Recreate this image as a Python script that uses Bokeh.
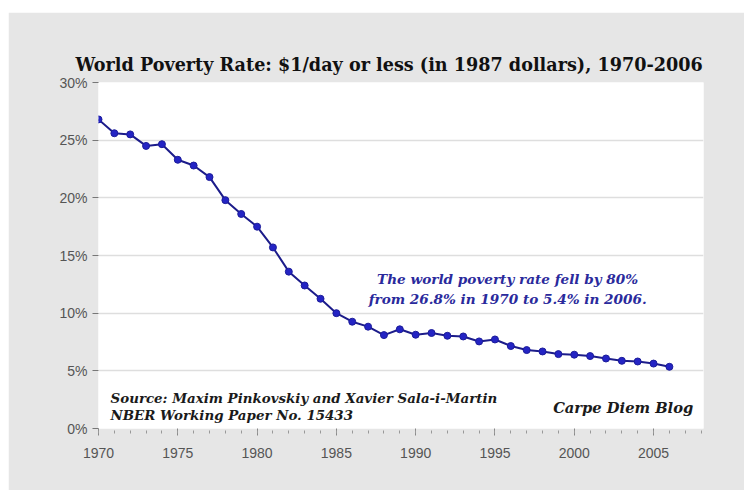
from bokeh.plotting import figure
from bokeh.models import FixedTicker, Label, Spacer, Range1d
from bokeh.layouts import column, row
from bokeh.embed import file_html
from bokeh.resources import INLINE

# ---- data ----
years = list(range(1970, 2007))
rate = [26.8, 25.6, 25.5, 24.5, 24.65, 23.3, 22.8, 21.8, 19.8, 18.6,
        17.5, 15.7, 13.6, 12.4, 11.25, 10.0, 9.26, 8.83, 8.1, 8.6,
        8.13, 8.28, 8.04, 7.98, 7.55, 7.72, 7.15, 6.8, 6.68, 6.45,
        6.4, 6.28, 6.07, 5.87, 5.81, 5.63, 5.35]
y_ticks = [0, 5, 10, 15, 20, 25, 30]
y_tick_labels = ["0%", "5%", "10%", "15%", "20%", "25%", "30%"]
x_ticks = [1970, 1975, 1980, 1985, 1990, 1995, 2000, 2005]
x_minor = list(range(1970, 2009))

title_text = "World Poverty Rate: $1/day or less  (in 1987 dollars), 1970-2006"
note_lines = ["The world poverty rate fell by 80%",
              "from 26.8% in 1970 to 5.4% in 2006."]
source_lines = ["Source: Maxim Pinkovskiy and Xavier Sala-i-Martin",
                "NBER Working Paper No. 15433"]
blog_text = "Carpe Diem Blog"

GRAY = "#e6e6e6"

p = figure(width=736, height=478, output_backend="svg", toolbar_location=None,
           x_range=Range1d(1970, 2008.15), y_range=Range1d(0, 30),
           min_border_left=90, min_border_right=41, min_border_top=70,
           min_border_bottom=62)
p.border_fill_color = GRAY
p.background_fill_color = "white"
p.outline_line_color = None

p.title.text = title_text
p.title.text_font = "DejaVu Serif"
p.title.text_font_style = "bold"
p.title.text_font_size = "17.6px"
p.title.text_color = "#111111"
p.title.align = "left"
p.title.offset = -23
p.title.standoff = 16

# axes
p.yaxis.ticker = FixedTicker(ticks=y_ticks)
p.yaxis.major_label_overrides = {t: l for t, l in zip(y_ticks, y_tick_labels)}
p.yaxis.axis_line_color = None
p.yaxis.major_tick_in = 0
p.yaxis.major_tick_out = 6
p.yaxis.major_tick_line_color = "#777777"
p.yaxis.minor_tick_line_color = None
p.yaxis.major_label_standoff = 5
p.yaxis.major_label_text_font = "Liberation Sans"
p.yaxis.major_label_text_font_size = "14px"
p.yaxis.major_label_text_color = "#555555"

p.xaxis.ticker = FixedTicker(ticks=x_ticks, minor_ticks=x_minor)
p.xaxis.axis_line_color = None
p.xaxis.major_tick_in = 0
p.xaxis.major_tick_out = 7
p.xaxis.minor_tick_in = -2
p.xaxis.minor_tick_out = 5
p.xaxis.major_tick_line_color = "#888888"
p.xaxis.minor_tick_line_color = "#999999"
p.xaxis.major_label_standoff = 12
p.xaxis.major_label_text_font = "Liberation Sans"
p.xaxis.major_label_text_font_size = "14px"
p.xaxis.major_label_text_color = "#555555"

p.xgrid.grid_line_color = None
p.ygrid.grid_line_color = "#dedede"
p.ygrid.grid_line_width = 1.5

# series
p.line(years, rate, line_color="#1c1c8a", line_width=2)
p.scatter(years, rate, marker="circle", size=7, fill_color="#2424c4",
          line_color="#1c1c9a")

# annotations
for txt, yy in zip(note_lines, [12.97, 11.2]):
    p.add_layout(Label(x=1995.8, y=yy, text=txt, text_align="center",
                       text_baseline="middle", text_font="DejaVu Serif",
                       text_font_style="bold italic", text_font_size="13.6px",
                       text_color="#2a2a9c"))
for txt, yy in zip(source_lines, [2.65, 1.17]):
    p.add_layout(Label(x=1970.76, y=yy, text=txt, text_align="left",
                       text_baseline="middle", text_font="DejaVu Serif",
                       text_font_style="bold italic", text_font_size="13.4px",
                       text_color="#1a1a1a"))
p.add_layout(Label(x=2007.5, y=1.78, text=blog_text, text_align="right",
                   text_baseline="middle", text_font="DejaVu Serif",
                   text_font_style="bold italic", text_font_size="14.7px",
                   text_color="#1a1a1a"))

layout = column(Spacer(width=744, height=12),
                row(Spacer(width=8, height=478), p))
open("out.html", "w").write(file_html(layout, INLINE))
